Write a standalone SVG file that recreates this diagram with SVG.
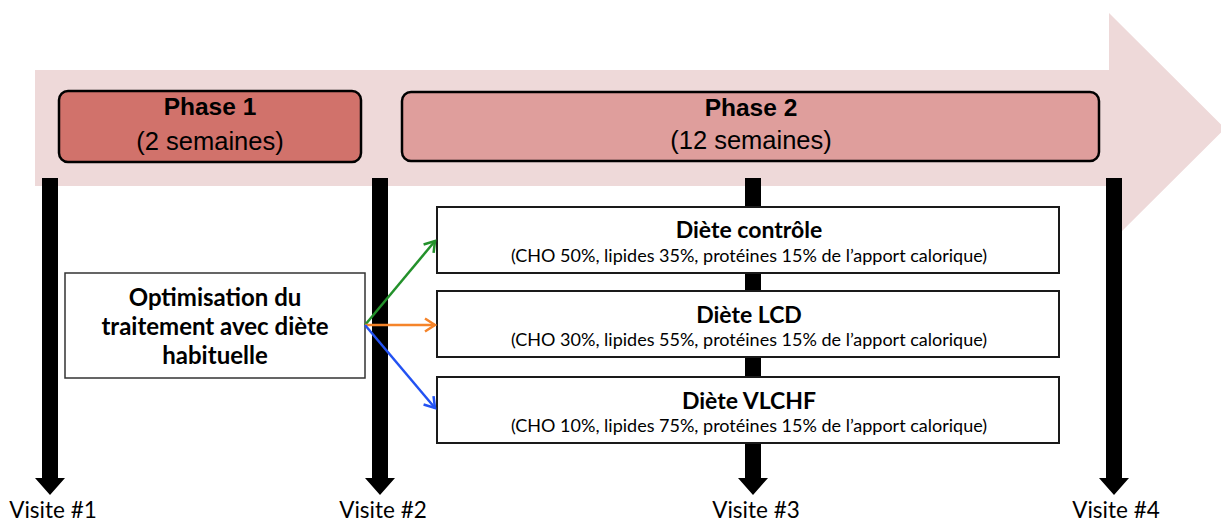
<svg xmlns="http://www.w3.org/2000/svg" width="1221" height="521" viewBox="0 0 1221 521">
<style>
.phase-t{font-family:"Liberation Sans",Arial,sans-serif;font-weight:bold;font-size:24.5px;fill:#000;text-anchor:middle}
.phase-s{font-family:"Liberation Sans",Arial,sans-serif;font-size:25.5px;fill:#000;text-anchor:middle}
.opt{font-family:Lato,"Open Sans",sans-serif;font-weight:bold;font-size:24px;fill:#000;text-anchor:middle}
.dt{font-family:Lato,"Open Sans",sans-serif;font-weight:bold;font-size:23px;fill:#000;text-anchor:middle}
.cal{font-family:Lato,"Open Sans",sans-serif;font-size:18px;fill:#000;text-anchor:middle}
.visit{font-family:Lato,"Open Sans",sans-serif;font-size:22.5px;fill:#000;text-anchor:middle}
.box{fill:#fff;stroke:#1a1a1a;stroke-width:2}
.vis{fill:#000}
.conn{fill:none;stroke-width:2.5}
</style>
<defs>
<marker id="mg" markerUnits="userSpaceOnUse" markerWidth="16" markerHeight="16" refX="13" refY="8" orient="auto"><path d="M3,1.5 L13,8 L3,14.5" fill="none" stroke="#23912b" stroke-width="2.5"/></marker>
<marker id="mo" markerUnits="userSpaceOnUse" markerWidth="16" markerHeight="16" refX="13" refY="8" orient="auto"><path d="M3,1.5 L13,8 L3,14.5" fill="none" stroke="#f5842a" stroke-width="2.5"/></marker>
<marker id="mb" markerUnits="userSpaceOnUse" markerWidth="16" markerHeight="16" refX="13" refY="8" orient="auto"><path d="M3,1.5 L13,8 L3,14.5" fill="none" stroke="#2352f2" stroke-width="2.5"/></marker>
</defs>
<g id="timeline">
<polygon points="35,70 1109,70 1109,13 1225,128.5 1109,244 1109,186 35,186" fill="#eed9d9"/>
</g>
<g id="phase1">
<rect x="59" y="91" width="302" height="71" rx="9" fill="#d1726b" stroke="#000" stroke-width="2.5"/>
<text class="phase-t" x="210" y="115">Phase 1</text>
<text class="phase-s" x="210" y="150">(2 semaines)</text>
</g>
<g id="phase2">
<rect x="402" y="92" width="697" height="69" rx="9" fill="#df9e9c" stroke="#000" stroke-width="2.5"/>
<text class="phase-t" x="751" y="116">Phase 2</text>
<text class="phase-s" x="751" y="149">(12 semaines)</text>
</g>
<g id="visit1">
<polygon class="vis" points="42,178 58,178 58,478 65,478 50,495 35,478 42,478"/>
<text class="visit" x="53" y="518">Visite #1</text>
</g>
<g id="visit2">
<polygon class="vis" points="372,178 388,178 388,478 395,478 380,495 365,478 372,478"/>
<text class="visit" x="383" y="518">Visite #2</text>
</g>
<g id="visit3">
<polygon class="vis" points="745,178 761,178 761,478 768,478 753,495 738,478 745,478"/>
<text class="visit" x="756" y="518">Visite #3</text>
</g>
<g id="visit4">
<polygon class="vis" points="1106,178 1122,178 1122,478 1129,478 1114,495 1099,478 1106,478"/>
<text class="visit" x="1116" y="518">Visite #4</text>
</g>
<g id="optimisation">
<rect x="65" y="273" width="300" height="105" fill="#fff" stroke="#333" stroke-width="1.5"/>
<text class="opt" x="215" y="306">Optimisation du</text>
<text class="opt" x="215" y="335">traitement avec diète</text>
<text class="opt" x="215" y="364">habituelle</text>
</g>
<g id="diete-controle">
<rect class="box" x="437" y="207" width="622" height="66"/>
<text class="dt" x="749" y="238">Diète contrôle</text>
<text class="cal" x="749" y="262">(CHO 50%, lipides 35%, protéines 15% de l’apport calorique)</text>
</g>
<g id="diete-lcd">
<rect class="box" x="437" y="291" width="622" height="66"/>
<text class="dt" x="749" y="323">Diète LCD</text>
<text class="cal" x="749" y="346">(CHO 30%, lipides 55%, protéines 15% de l’apport calorique)</text>
</g>
<g id="diete-vlchf">
<rect class="box" x="437" y="377" width="622" height="66"/>
<text class="dt" x="749" y="409">Diète VLCHF</text>
<text class="cal" x="749" y="432">(CHO 10%, lipides 75%, protéines 15% de l’apport calorique)</text>
</g>
<g id="connectors">
<line class="conn" x1="365" y1="325" x2="435" y2="241" stroke="#23912b" marker-end="url(#mg)"/>
<line class="conn" x1="365" y1="325" x2="435" y2="325" stroke="#f5842a" marker-end="url(#mo)"/>
<line class="conn" x1="365" y1="325" x2="435" y2="408" stroke="#2352f2" marker-end="url(#mb)"/>
</g>
</svg>
